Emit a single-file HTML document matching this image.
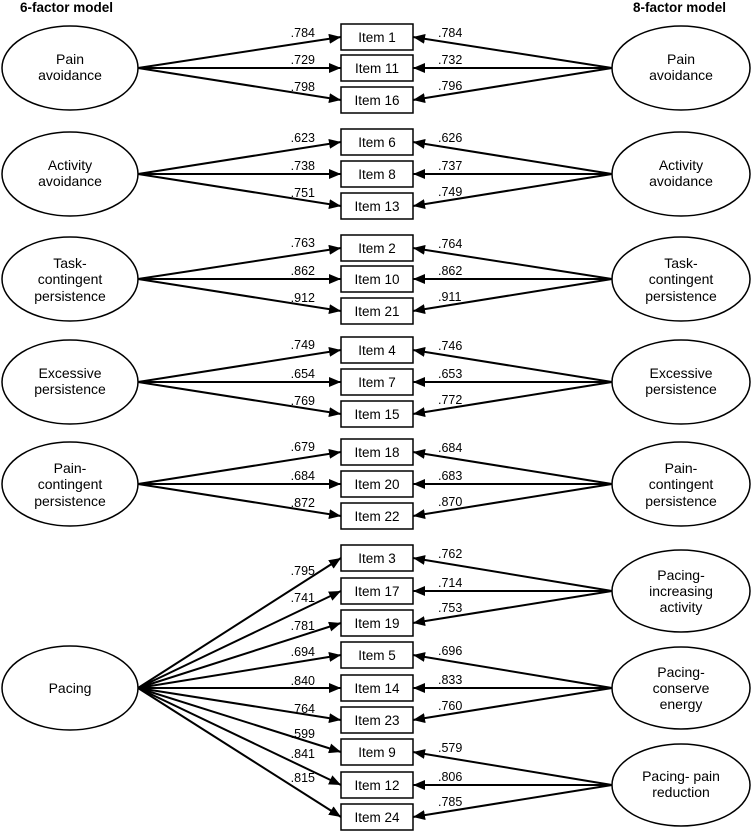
<!DOCTYPE html>
<html><head><meta charset="utf-8"><style>
html,body{margin:0;padding:0;background:#fff;}
svg{display:block;font-family:"Liberation Sans",Arial,sans-serif;}
.it{font-size:13.5px;text-anchor:middle;}
.lb{font-size:12.5px;}
.l{text-anchor:end;}
.e{font-size:14px;text-anchor:middle;}
line{stroke:#000;stroke-width:2;}
rect,ellipse{fill:#fff;stroke:#000;stroke-width:1.5;}
</style></head><body>
<svg width="752" height="832" viewBox="0 0 752 832" xmlns="http://www.w3.org/2000/svg">
<defs>
<marker id="a" markerWidth="12" markerHeight="10" refX="12" refY="5" orient="auto" markerUnits="userSpaceOnUse"><path d="M0,0 L12,5 L0,10 z" fill="#000"/></marker>
</defs>
<text x="20" y="12" font-size="13.5" font-weight="bold">6-factor model</text>
<text x="633" y="12" font-size="13.5" font-weight="bold">8-factor model</text>

<g marker-end="url(#a)">
<!-- left lines -->
<line x1="138" y1="68" x2="341" y2="37"/><line x1="138" y1="68" x2="341" y2="68"/><line x1="138" y1="68" x2="341" y2="100"/>
<line x1="138" y1="174" x2="341" y2="142"/><line x1="138" y1="174" x2="341" y2="174"/><line x1="138" y1="174" x2="341" y2="206"/>
<line x1="138" y1="279" x2="341" y2="248"/><line x1="138" y1="279" x2="341" y2="279"/><line x1="138" y1="279" x2="341" y2="311"/>
<line x1="138" y1="382" x2="341" y2="350"/><line x1="138" y1="382" x2="341" y2="382"/><line x1="138" y1="382" x2="341" y2="414"/>
<line x1="138" y1="484" x2="341" y2="452"/><line x1="138" y1="484" x2="341" y2="484"/><line x1="138" y1="484" x2="341" y2="516"/>
<line x1="138" y1="688" x2="341" y2="558"/><line x1="138" y1="688" x2="341" y2="591"/><line x1="138" y1="688" x2="341" y2="623"/>
<line x1="138" y1="688" x2="341" y2="655"/><line x1="138" y1="688" x2="341" y2="688"/><line x1="138" y1="688" x2="341" y2="720"/>
<line x1="138" y1="688" x2="341" y2="752"/><line x1="138" y1="688" x2="341" y2="785"/><line x1="138" y1="688" x2="341" y2="817"/>
<!-- right lines -->
<line x1="612" y1="68" x2="413" y2="37"/><line x1="612" y1="68" x2="413" y2="68"/><line x1="612" y1="68" x2="413" y2="100"/>
<line x1="612" y1="174" x2="413" y2="142"/><line x1="612" y1="174" x2="413" y2="174"/><line x1="612" y1="174" x2="413" y2="206"/>
<line x1="612" y1="279" x2="413" y2="248"/><line x1="612" y1="279" x2="413" y2="279"/><line x1="612" y1="279" x2="413" y2="311"/>
<line x1="612" y1="382" x2="413" y2="350"/><line x1="612" y1="382" x2="413" y2="382"/><line x1="612" y1="382" x2="413" y2="414"/>
<line x1="612" y1="484" x2="413" y2="452"/><line x1="612" y1="484" x2="413" y2="484"/><line x1="612" y1="484" x2="413" y2="516"/>
<line x1="612" y1="591" x2="413" y2="558"/><line x1="612" y1="591" x2="413" y2="591"/><line x1="612" y1="591" x2="413" y2="623"/>
<line x1="612" y1="688" x2="413" y2="655"/><line x1="612" y1="688" x2="413" y2="688"/><line x1="612" y1="688" x2="413" y2="720"/>
<line x1="612" y1="785" x2="413" y2="752"/><line x1="612" y1="785" x2="413" y2="785"/><line x1="612" y1="785" x2="413" y2="817"/>
</g>

<!-- boxes -->
<g>
<rect x="341" y="24" width="72" height="26"/><rect x="341" y="55" width="72" height="26"/><rect x="341" y="87" width="72" height="26"/>
<rect x="341" y="129" width="72" height="26"/><rect x="341" y="161" width="72" height="26"/><rect x="341" y="193" width="72" height="26"/>
<rect x="341" y="235" width="72" height="26"/><rect x="341" y="266" width="72" height="26"/><rect x="341" y="298" width="72" height="26"/>
<rect x="341" y="337" width="72" height="26"/><rect x="341" y="369" width="72" height="26"/><rect x="341" y="401" width="72" height="26"/>
<rect x="341" y="439" width="72" height="26"/><rect x="341" y="471" width="72" height="26"/><rect x="341" y="503" width="72" height="26"/>
<rect x="341" y="545" width="72" height="26"/><rect x="341" y="578" width="72" height="26"/><rect x="341" y="610" width="72" height="26"/>
<rect x="341" y="642" width="72" height="26"/><rect x="341" y="675" width="72" height="26"/><rect x="341" y="707" width="72" height="26"/>
<rect x="341" y="739" width="72" height="26"/><rect x="341" y="772" width="72" height="26"/><rect x="341" y="804" width="72" height="26"/>
</g>
<g class="it">
<text x="377" y="42">Item 1</text><text x="377" y="73">Item 11</text><text x="377" y="105">Item 16</text>
<text x="377" y="147">Item 6</text><text x="377" y="179">Item 8</text><text x="377" y="211">Item 13</text>
<text x="377" y="253">Item 2</text><text x="377" y="284">Item 10</text><text x="377" y="316">Item 21</text>
<text x="377" y="355">Item 4</text><text x="377" y="387">Item 7</text><text x="377" y="419">Item 15</text>
<text x="377" y="457">Item 18</text><text x="377" y="489">Item 20</text><text x="377" y="521">Item 22</text>
<text x="377" y="563">Item 3</text><text x="377" y="596">Item 17</text><text x="377" y="628">Item 19</text>
<text x="377" y="660">Item 5</text><text x="377" y="693">Item 14</text><text x="377" y="725">Item 23</text>
<text x="377" y="757">Item 9</text><text x="377" y="790">Item 12</text><text x="377" y="822">Item 24</text>
</g>

<!-- left loadings -->
<g class="lb l">
<text x="315" y="37">.784</text><text x="315" y="64">.729</text><text x="315" y="91">.798</text>
<text x="315" y="142">.623</text><text x="315" y="170">.738</text><text x="315" y="197">.751</text>
<text x="315" y="247">.763</text><text x="315" y="275">.862</text><text x="315" y="302">.912</text>
<text x="315" y="349">.749</text><text x="315" y="378">.654</text><text x="315" y="405">.769</text>
<text x="315" y="451">.679</text><text x="315" y="480">.684</text><text x="315" y="507">.872</text>
<text x="315" y="575">.795</text><text x="315" y="602">.741</text><text x="315" y="630">.781</text>
<text x="315" y="656">.694</text><text x="315" y="685">.840</text><text x="315" y="713">.764</text>
<text x="315" y="738">.599</text><text x="315" y="758">.841</text><text x="315" y="782">.815</text>
</g>
<!-- right loadings -->
<g class="lb">
<text x="438" y="37">.784</text><text x="438" y="64">.732</text><text x="438" y="90">.796</text>
<text x="438" y="142">.626</text><text x="438" y="170">.737</text><text x="438" y="196">.749</text>
<text x="438" y="248">.764</text><text x="438" y="275">.862</text><text x="438" y="301">.911</text>
<text x="438" y="350">.746</text><text x="438" y="378">.653</text><text x="438" y="404">.772</text>
<text x="438" y="452">.684</text><text x="438" y="480">.683</text><text x="438" y="506">.870</text>
<text x="438" y="558">.762</text><text x="438" y="587">.714</text><text x="438" y="612">.753</text>
<text x="438" y="655">.696</text><text x="438" y="684">.833</text><text x="438" y="710">.760</text>
<text x="438" y="752">.579</text><text x="438" y="781">.806</text><text x="438" y="806">.785</text>
</g>

<!-- left ellipses -->
<ellipse cx="70" cy="68" rx="68" ry="42"/>
<ellipse cx="70" cy="174" rx="68" ry="42"/>
<ellipse cx="70" cy="279" rx="68" ry="42"/>
<ellipse cx="70" cy="382" rx="68" ry="42"/>
<ellipse cx="70" cy="484" rx="68" ry="42"/>
<ellipse cx="70" cy="688" rx="68" ry="42"/>
<!-- right ellipses -->
<ellipse cx="681" cy="68" rx="69" ry="42"/>
<ellipse cx="681" cy="174" rx="69" ry="42"/>
<ellipse cx="681" cy="279" rx="69" ry="42"/>
<ellipse cx="681" cy="382" rx="69" ry="42"/>
<ellipse cx="681" cy="484" rx="69" ry="42"/>
<ellipse cx="681" cy="591" rx="69" ry="41"/>
<ellipse cx="681" cy="688" rx="69" ry="41"/>
<ellipse cx="681" cy="785" rx="69" ry="41"/>

<g class="e">
<text x="70" y="64">Pain</text><text x="70" y="80">avoidance</text>
<text x="70" y="170">Activity</text><text x="70" y="186">avoidance</text>
<text x="70" y="268">Task-</text><text x="70" y="284">contingent</text><text x="70" y="301">persistence</text>
<text x="70" y="378">Excessive</text><text x="70" y="394">persistence</text>
<text x="70" y="473">Pain-</text><text x="70" y="489">contingent</text><text x="70" y="506">persistence</text>
<text x="70" y="693">Pacing</text>

<text x="681" y="64">Pain</text><text x="681" y="80">avoidance</text>
<text x="681" y="170">Activity</text><text x="681" y="186">avoidance</text>
<text x="681" y="268">Task-</text><text x="681" y="284">contingent</text><text x="681" y="301">persistence</text>
<text x="681" y="378">Excessive</text><text x="681" y="394">persistence</text>
<text x="681" y="473">Pain-</text><text x="681" y="489">contingent</text><text x="681" y="506">persistence</text>
<text x="681" y="580">Pacing-</text><text x="681" y="596">increasing</text><text x="681" y="612">activity</text>
<text x="681" y="677">Pacing-</text><text x="681" y="693">conserve</text><text x="681" y="709">energy</text>
<text x="681" y="781">Pacing- pain</text><text x="681" y="797">reduction</text>
</g>
</svg>
</body></html>
